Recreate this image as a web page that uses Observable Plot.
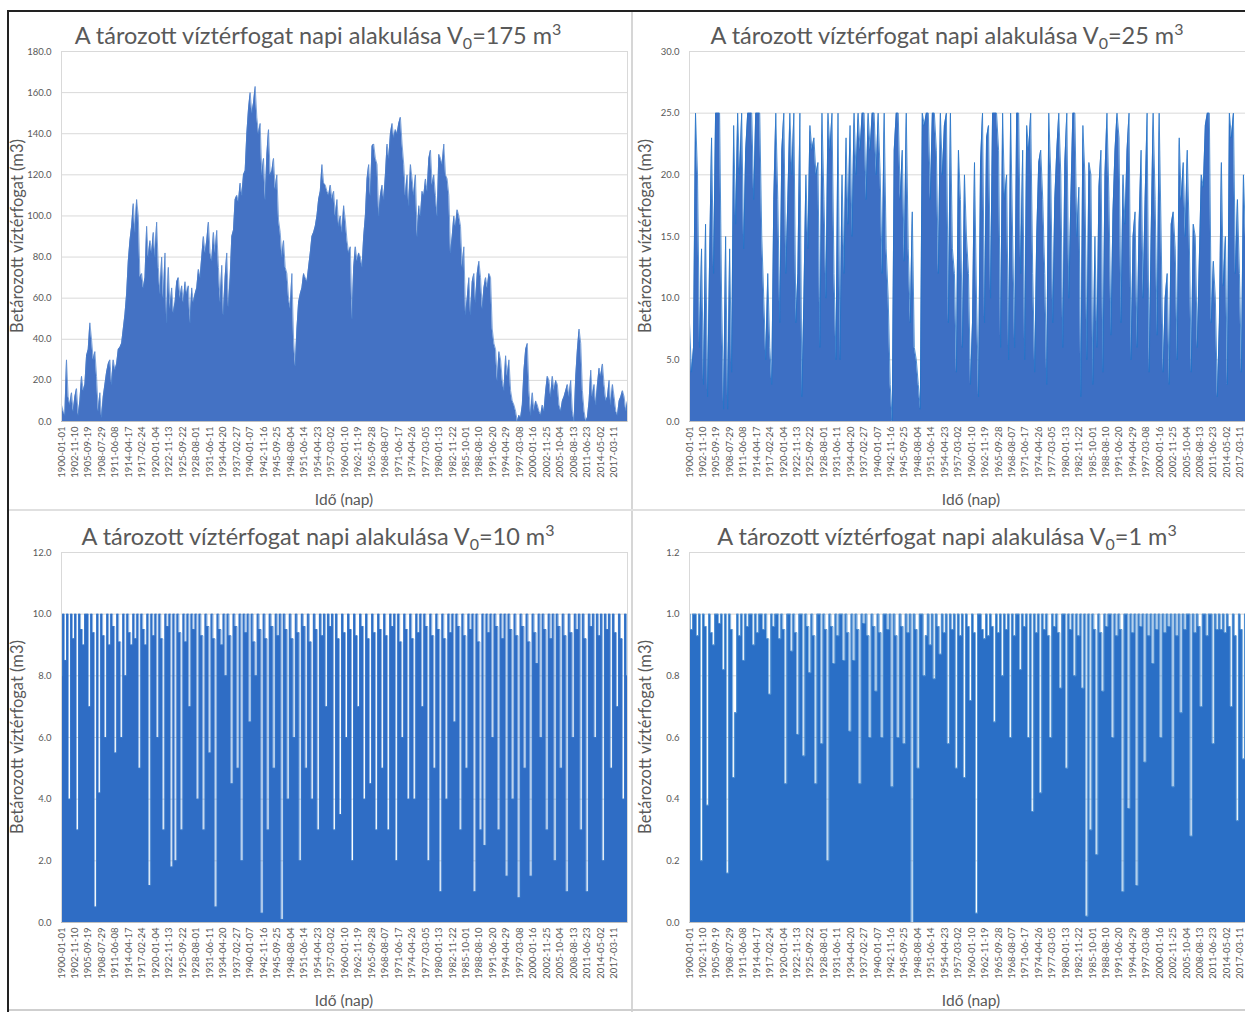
<!DOCTYPE html>
<html><head><meta charset="utf-8">
<script src="https://cdn.jsdelivr.net/npm/d3@7"></script>
<script src="https://cdn.jsdelivr.net/npm/@observablehq/plot@0.6"></script>
<style>
body{margin:0;background:#fff;}
#page{position:relative;width:1245px;height:1012px;overflow:hidden;background:#fff;font-family:Lato,"Open Sans",sans-serif;color:#595959;}
.title{position:absolute;width:640px;text-align:center;font-size:23.5px;line-height:23px;white-space:nowrap;}
.title .sb{font-size:16px;position:relative;top:5px;}
.title .sp{font-size:16px;position:relative;top:-9px;}
.ytitle{position:absolute;transform:translate(-50%,-50%) rotate(-90deg);font-size:16.5px;white-space:nowrap;}
.xtitle{position:absolute;transform:translate(-50%,-50%);font-size:15.5px;white-space:nowrap;}
.panel{position:absolute;}
.panel svg{max-width:none !important;}
.ln{position:absolute;}
</style></head>
<body><div id="page"></div>
<script>
// ---- tick labels ----
const xTickLabels = ["1900-01-01","1902-11-10","1905-09-19","1908-07-29","1911-06-08","1914-04-17","1917-02-24","1920-01-04","1922-11-13","1925-09-22","1928-08-01","1931-06-11","1934-04-20","1937-02-27","1940-01-07","1942-11-16","1945-09-25","1948-08-04","1951-06-14","1954-04-23","1957-03-02","1960-01-10","1962-11-19","1965-09-28","1968-08-07","1971-06-17","1974-04-26","1977-03-05","1980-01-13","1982-11-22","1985-10-01","1988-08-10","1991-06-20","1994-04-29","1997-03-08","2000-01-16","2002-11-25","2005-10-04","2008-08-13","2011-06-23","2014-05-02","2017-03-11"];
const firstDay = "1900-01-01", lastDay = "2019-12-31";
const yTicks175 = [0,20,40,60,80,100,120,140,160,180];
const yTicks25 = [0,5,10,15,20,25,30];
const yTicks10 = [0,2,4,6,8,10,12];
const yTicks1 = [0,0.2,0.4,0.6,0.8,1.0,1.2];

// ---- series values (evenly spaced in time) ----
const v175 = [8,5,3,30,12,8,14,5,12,16,3,10,22,15,18,32,35,48,40,30,34,22,5,14,2,12,18,24,28,30,18,30,25,28,35,36,38,45,52,62,78,88,95,106,92,108,100,70,72,65,70,95,80,88,82,92,80,97,75,62,80,60,82,48,75,55,65,53,58,68,70,60,66,58,68,62,66,48,65,58,62,65,74,70,80,90,82,88,97,82,78,92,82,93,75,58,76,52,70,82,56,70,90,93,108,110,107,116,110,120,122,140,152,160,150,155,163,148,140,145,120,128,108,130,142,120,122,128,113,120,98,92,80,88,75,72,60,55,72,40,27,45,58,
62,65,72,70,68,75,82,90,92,95,100,108,112,125,116,115,112,110,115,108,112,100,108,95,100,92,105,98,88,82,85,50,75,85,78,82,80,75,90,100,118,125,110,134,135,128,125,100,110,115,108,120,135,128,140,145,138,142,140,145,148,135,125,110,120,105,125,118,110,120,90,105,100,112,110,118,112,128,132,115,120,110,100,130,128,125,135,120,118,110,82,90,100,95,103,100,95,75,85,52,60,70,52,68,72,58,72,78,70,55,65,70,65,72,70,45,38,35,20,34,30,20,15,32,22,30,15,10,8,5,0,3,2,8,25,35,38,15,3,14,5,10,8,5,3,8,5,15,22,20,12,22,15,20,18,8,5,10,12,15,18,12,20,5,0,22,35,45,38,15,5,0,2,10,25,12,18,8,18,26,22,28,18,10,12,20,8,18,12,5,3,10,12,15,12,5,10];

const v25 = [8,4,6,25,20,6,14,3,16,2,
13,23,12,25,25,25,10,1,15,1,
14,4,24,16,25,20,25,14,22,25,
25,25,18,25,25,25,15,10,5,12,
6,3,18,25,18,8,22,25,12,18,
25,20,25,8,12,25,2,10,20,14,
24,22,23,20,21,6,25,18,10,25,
22,25,12,5,25,5,20,12,23,16,
24,15,25,20,25,22,25,25,18,25,
22,25,25,20,25,20,12,25,14,10,
3,0,22,25,25,18,22,13,25,14,
8,17,6,5,3,1,25,24,25,25,
18,25,25,22,12,25,20,24,25,8,
25,14,12,4,22,18,6,20,15,12,
3,8,21,10,2,21,25,8,23,24,
10,25,25,25,22,6,25,18,20,5,
25,15,6,25,25,12,22,5,24,22,
25,12,4,15,21,22,18,12,3,25,
20,8,18,22,25,20,6,21,25,10,
18,25,25,15,19,2,24,20,5,21,
20,3,15,6,19,22,4,20,25,18,
7,17,22,25,23,8,20,16,22,25,
5,15,17,6,16,22,10,18,25,4,
15,25,18,7,25,15,4,10,12,3,
16,17,14,5,23,18,21,15,22,15,
4,16,15,6,13,20,19,24,25,25,
8,13,10,2,8,21,11,15,3,25,
23,25,12,18,12,4,20,15,8,12,
10,6];

const v10 = [8,10,8.5,10,4,10,9.2,10,3,10,
9.5,9,10,10,7,10,9.4,0.5,10,4.2,
10,9.3,6,10,9,10,9.6,5.5,10,9.1,
6,10,8,10,9.4,9,10,9.2,10,5,
10,9.5,9,10,1.2,10,9.3,10,6,10,
9.2,3,10,9.6,10,1.8,10,2,10,9.4,
3,10,9.1,10,7,10,9.5,10,4,10,
9.3,3,10,9.6,5.5,10,9.2,0.5,10,9.5,
9,10,8,10,9.3,4.5,10,9.6,5,10,
2,10,9.4,10,6.5,10,9.1,8,10,9.5,
0.3,10,9.2,3,10,9.6,5,10,9.3,10,
0.1,10,9.5,4,10,9.2,6,10,9.4,2,
10,9.6,5,10,9.1,4,10,9.5,3,10,
9.3,10,7,10,9.6,10,3,10,9.2,3.5,
10,9.4,6,10,9.5,2,10,9.3,7,10,
9.6,4,10,9.2,4.5,10,9.4,3,10,9.5,
5,10,9.3,3,10,9.6,10,2,10,9.1,
6,10,9.5,4,10,9.2,4,10,9.4,10,
7,10,9.6,2,10,9.3,5,10,9.5,1,
10,9.2,4,10,9.4,10,6.5,10,9.6,3,
10,9.3,5,10,9.5,10,1,10,9.1,3,
10,2.5,10,9.4,10,6,10,9.6,3,10,
9.2,10,1.5,10,9.5,4,10,9.3,0.8,10,
9.6,5,10,9.1,1.5,10,9.4,8.4,10,6,
10,9.5,3,10,9.2,10,2,10,9.6,5,
10,9.3,1,10,9.4,6,10,9.5,10,3,
10,9.2,1,10,9.6,10,6,10,9.3,10,
2,10,9.5,10,5,10,9.4,7,10,9.2,
4,10,8];

const v1 = [1,0.95,1,1,0.93,1,0.2,1,0.96,0.38,
1,0.94,0.9,1,1,0.97,1,0.82,1,0.16,
1,0.95,0.47,0.68,1,0.93,1,0.85,1,0.96,
1,1,0.9,1,0.94,1,1,0.95,1,0.92,
0.74,1,0.96,1,1,0.92,1,0.95,0.45,1,
1,0.88,1,0.94,0.61,1,1,0.54,1,0.96,
0.81,1,0.93,0.45,1,1,0.58,1,0.95,0.2,
1,0.96,0.84,1,0.93,1,1,0.85,1,0.94,
0.62,1,0.85,1,0.95,0.45,1,0.97,1,0.93,
0.6,1,0.96,0.75,1,0.94,0.6,1,1,0.95,
1,0.44,1,0.93,0.6,1,0.96,0.58,1,0.94,
1,0,1,0.95,0.5,1,1,0.8,0.93,1,
0.9,1,0.79,1,0.96,0.87,1,0.94,1,0.58,
1,0.95,1,0.5,1,0.93,1,0.47,1,0.96,
0.72,1,0.94,0.03,1,1,0.95,0.92,1,0.93,
1,0.96,0.65,1,0.94,1,0.8,1,0.95,1,
0.6,1,0.93,1,1,0.82,1,0.96,1,0.6,
1,0.36,1,0.94,1,0.42,1,0.95,1,0.93,
0.6,1,0.96,1,0.94,0.76,1,1,0.5,1,
0.95,1,0.8,1,0.93,1,0.76,1,0.02,1,
0.3,1,0.95,0.22,1,0.94,0.75,1,0.96,1,
1,0.6,1,0.93,1,0.95,0.1,1,1,0.37,
1,0.94,1,0.12,1,0.96,1,0.52,1,0.93,
1,0.84,1,0.95,1,0.6,1,0.94,1,0.96,
1,0.44,1,0.93,1,0.68,1,0.95,1,1,
0.28,1,0.94,1,0.96,0.7,1,1,0.93,1,
1,0.58,1,0.95,1,0.95,1,0.94,1,0.96,
0.7,1,0.93,0.33,1,0.95,0.53,1,0.94,1,
1,0.95];

// ---- build ----
const parse = d3.utcParse("%Y-%m-%d");
const fmt = d3.utcFormat("%Y-%m-%d");
const t0 = parse(firstDay), t1 = parse(lastDay);
const xTicks = xTickLabels.map(parse);
function rows(values){
  const n = values.length;
  return values.map((v,i)=>({date:new Date(+t0 + (t1 - t0)*i/(n-1)), v}));
}
const page = document.getElementById("page");
function add(html, cls, style){
  const d = document.createElement("div");
  d.className = cls; d.innerHTML = html; Object.assign(d.style, style);
  page.appendChild(d); return d;
}
function panel(o){
  const data = rows(o.values);
  const svg = Plot.plot({
    width: o.width, height: 456,
    marginLeft: 61, marginRight: 13, marginTop: 11, marginBottom: 75,
    style: {fontFamily: "Lato, 'Open Sans', sans-serif", fontSize: "9.5px", color: "#595959", background: "transparent"},
    x: {type: "utc", domain: [t0, t1]},
    y: {domain: [0, o.yMax]},
    marks: [
      Plot.gridY(o.yTicks, {stroke: "#d9d9d9", strokeOpacity: 1, strokeWidth: 1}),
      Plot.areaY(data, {x: "date", y: "v", fill: o.fill, curve: o.curve}),
      Plot.lineY(data, {x: "date", y: "v", stroke: o.stroke, strokeWidth: o.sw, curve: o.curve}),
      Plot.frame({stroke: "#d9d9d9"}),
      Plot.ruleY([0], {stroke: "#bfbfbf"}),
      Plot.axisY(o.yTicks, {tickSize: 0, tickPadding: 10, tickFormat: d => d.toFixed(1), label: null, fill: "#595959"}),
      Plot.axisX(xTicks, {tickSize: 0, tickPadding: 5, tickRotate: -90, tickFormat: fmt, label: null, fill: "#595959"})
    ]
  });
  svg.style.maxWidth = "none";
  const wrap = add("", "panel", {left: o.left + "px", top: o.top + "px", width: o.width + "px", height: "456px"});
  wrap.appendChild(svg);
  const plotCx = o.left + 61 + (o.width - 74) / 2;
  add(`A tározott víztérfogat napi alakulása V<span class="sb">0</span>=${o.v0} m<span class="sp">3</span>`, "title",
      {left: (o.titleCx - 320) + "px", top: (o.top - 16) + "px"});
  add("Betározott víztérfogat (m3)", "ytitle", {left: (o.left + 17) + "px", top: (o.top + 196) + "px"});
  add("Idő (nap)", "xtitle", {left: plotCx + "px", top: (o.top + 459) + "px"});
}
panel({values: v175, yMax: 180, yTicks: yTicks175, fill: "#4472C4", stroke: "#4a7fcc", sw: 0.7, curve: "linear", left: 0, top: 40, width: 640, v0: 175, titleCx: 318});
panel({values: v25, yMax: 30, yTicks: yTicks25, fill: "#3d6fc4", stroke: "#2474c8", sw: 0.8, curve: "linear", left: 628, top: 40, width: 638, v0: 25, titleCx: 947});
panel({values: v10, yMax: 12, yTicks: yTicks10, fill: "#2f6dc5", stroke: "#3d80cf", sw: 0.6, curve: "step", left: 0, top: 541, width: 640, v0: 10, titleCx: 318});
panel({values: v1, yMax: 1.2, yTicks: yTicks1, fill: "#2a6fc6", stroke: "#5b9bd5", sw: 0.8, curve: "step", left: 628, top: 541, width: 638, v0: 1, titleCx: 947});

// frame lines of the composed figure
add("", "ln", {left: "7px", top: "10px", width: "1238px", height: "2px", background: "#222"});
add("", "ln", {left: "7px", top: "10px", width: "2px", height: "1002px", background: "#222"});
add("", "ln", {left: "631px", top: "12px", width: "2px", height: "1000px", background: "#d6d6d6"});
add("", "ln", {left: "9px", top: "509px", width: "1236px", height: "2px", background: "#e0e0e0"});
add("", "ln", {left: "9px", top: "1009px", width: "1236px", height: "2px", background: "#cfcfcf"});
</script>
</body></html>
